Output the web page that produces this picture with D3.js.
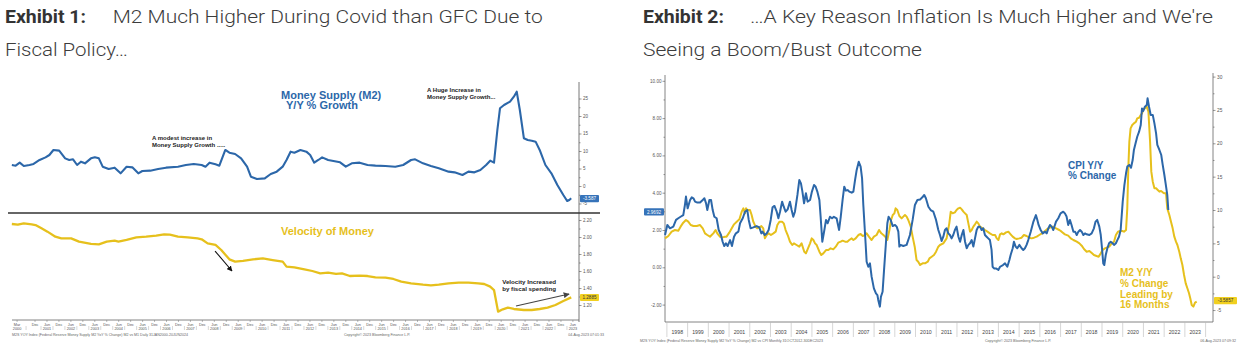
<!DOCTYPE html>
<html><head><meta charset="utf-8">
<script src="https://cdn.jsdelivr.net/npm/d3@7"></script>
<style>body{margin:0;background:#fff}svg{display:block}</style>
</head><body>
<svg id="c" width="1239" height="355"></svg>
<script>
// ---------- Exhibit 1 data ----------
const m2Years = [1999.95,2000.11,2000.28,2000.45,2000.69,2000.86,2001.11,2001.36,2001.52,2001.69,2001.93,2002.18,2002.35,2002.51,2002.68,2002.84,2003.01,2003.26,2003.42,2003.59,2003.75,2004.00,2004.25,2004.50,2004.75,2004.99,2005.24,2005.41,2005.74,2006.07,2006.40,2006.90,2007.23,2007.56,2007.89,2008.05,2008.22,2008.47,2008.63,2008.88,2009.05,2009.29,2009.54,2009.79,2009.95,2010.20,2010.53,2010.78,2011.03,2011.28,2011.44,2011.61,2011.77,2012.02,2012.27,2012.43,2012.60,2012.77,2012.93,2013.18,2013.68,2013.92,2014.17,2014.50,2014.83,2015.16,2015.58,2015.99,2016.32,2016.65,2016.82,2017.15,2017.48,2017.81,2018.22,2018.47,2018.80,2019.05,2019.30,2019.55,2019.79,2019.96,2020.12,2020.26,2020.37,2020.54,2020.79,2020.95,2021.07,2021.20,2021.37,2021.53,2021.70,2021.86,2022.03,2022.27,2022.52,2022.77,2023.02,2023.18,2023.27,2023.35];
const m2Growth = [6.0,5.81,6.67,5.71,6.0,6.29,7.43,8.19,8.86,10.29,10.1,7.9,7.43,7.62,6.0,6.95,6.48,7.9,8.19,7.9,5.52,4.85,5.24,3.62,5.52,5.33,3.62,4.28,4.38,4.85,5.24,5.52,6.0,6.29,6.0,5.52,6.67,6.19,5.81,10.29,9.52,9.14,7.9,5.52,2.67,2.0,2.19,3.43,4.1,5.52,7.43,9.81,9.52,10.29,9.81,8.86,6.67,7.43,8.19,7.43,6.76,5.52,6.48,6.67,6.0,5.81,5.71,5.52,6.0,7.43,7.62,6.48,5.71,5.05,4.1,3.9,3.14,4.1,3.9,4.57,6.0,7.24,6.67,16.0,22.2,23.14,24.1,25.52,26.95,21.71,13.62,13.14,12.95,12.67,10.29,6.0,3.62,0.29,-2.57,-4.29,-4.0,-3.52];
const velYears = [1999.95,2000.20,2000.45,2000.78,2000.94,2001.19,2001.44,2001.77,2002.02,2002.43,2002.76,2003.26,2003.59,2003.92,2004.25,2004.41,2004.75,2005.16,2005.57,2005.99,2006.32,2006.56,2006.90,2007.31,2007.72,2007.89,2008.14,2008.47,2008.71,2009.05,2009.29,2009.62,2010.04,2010.45,2010.86,2011.28,2011.44,2011.77,2012.19,2012.52,2012.85,2013.18,2013.51,2013.76,2014.09,2014.50,2014.83,2015.16,2015.58,2015.91,2016.24,2016.65,2017.15,2017.48,2017.81,2018.22,2018.64,2019.05,2019.46,2019.71,2019.96,2020.12,2020.29,2020.49,2020.70,2020.95,2021.37,2021.70,2022.03,2022.36,2022.69,2023.02,2023.35];
const velocity = [2.153,2.145,2.161,2.149,2.141,2.102,2.063,2.004,1.984,1.984,1.945,1.918,1.914,1.945,1.957,1.945,1.965,1.996,2.004,2.016,2.031,2.027,2.004,1.996,1.984,1.973,1.925,1.906,1.847,1.737,1.710,1.718,1.737,1.749,1.729,1.710,1.651,1.643,1.620,1.600,1.573,1.580,1.565,1.573,1.541,1.545,1.541,1.526,1.522,1.506,1.475,1.455,1.439,1.431,1.439,1.455,1.463,1.463,1.455,1.447,1.416,1.376,1.122,1.149,1.169,1.153,1.141,1.141,1.153,1.169,1.2,1.247,1.290];
const m2LastLabel = "-3.587", m2LastValue = -3.587;
const velLastLabel = "1.2885", velLastValue = 1.2885;
const m2Ticks = [-5,0,5,10,15,20,25];
const velTicks = [1.2,1.4,1.6,1.8,2.0,2.2];
const ex1TickYears = d3.range(2001, 2024);

// ---------- Exhibit 2 data ----------
const cpiYears = [1997.91,1998.02,1998.15,1998.31,1998.44,1998.55,1998.66,1998.79,1998.87,1998.92,1999.00,1999.12,1999.20,1999.28,1999.36,1999.47,1999.60,1999.73,1999.81,1999.89,1999.95,2000.05,2000.13,2000.21,2000.29,2000.40,2000.50,2000.61,2000.69,2000.77,2000.85,2000.93,2001.05,2001.14,2001.24,2001.33,2001.45,2001.53,2001.66,2001.77,2001.88,2001.95,2002.04,2002.17,2002.33,2002.46,2002.56,2002.62,2002.72,2002.82,2002.91,2003.01,2003.10,2003.19,2003.30,2003.38,2003.46,2003.56,2003.64,2003.73,2003.83,2003.94,2004.02,2004.10,2004.18,2004.30,2004.39,2004.47,2004.54,2004.62,2004.71,2004.79,2004.91,2005.00,2005.10,2005.18,2005.26,2005.36,2005.42,2005.50,2005.60,2005.68,2005.76,2005.87,2005.97,2006.06,2006.19,2006.31,2006.39,2006.48,2006.56,2006.64,2006.72,2006.80,2006.92,2007.00,2007.08,2007.16,2007.26,2007.35,2007.42,2007.48,2007.59,2007.64,2007.72,2007.80,2007.88,2007.99,2008.09,2008.16,2008.20,2008.28,2008.33,2008.41,2008.48,2008.57,2008.64,2008.70,2008.80,2008.90,2009.01,2009.09,2009.17,2009.22,2009.28,2009.41,2009.57,2009.73,2009.86,2009.97,2010.09,2010.22,2010.33,2010.42,2010.50,2010.62,2010.73,2010.86,2010.99,2011.10,2011.18,
 2011.26,2011.34,2011.42,2011.50,2011.58,2011.66,2011.74,2011.82,2011.90,2011.98,2012.07,2012.15,2012.23,2012.31,2012.39,2012.47,2012.55,2012.63,2012.71,2012.79,2012.87,2012.95,2013.03,2013.11,2013.19,2013.27,2013.35,2013.43,2013.51,2013.59,2013.67,2013.72,2013.79,2013.88,2014.00,2014.08,2014.22,2014.32,2014.43,2014.53,2014.59,2014.69,2014.75,2014.83,2014.91,2015.01,2015.12,2015.20,2015.28,2015.36,2015.44,2015.56,2015.69,2015.81,2015.88,2015.94,2016.04,2016.14,2016.25,2016.33,2016.41,2016.49,2016.57,2016.65,2016.78,2016.89,2017.00,2017.13,2017.21,2017.29,2017.37,2017.45,2017.53,2017.62,2017.70,2017.78,2017.86,2017.94,2018.02,2018.10,2018.18,2018.26,2018.39,2018.50,2018.61,2018.69,2018.77,2018.87,2018.94,2019.00,2019.06,2019.11,2019.18,2019.26,2019.34,2019.42,2019.51,2019.58,2019.67,2019.74,2019.82,2019.90,2020.00,2020.08,2020.16,2020.22,2020.32,2020.40,2020.48,2020.54,2020.62,2020.70,2020.79,2020.87,2020.93,2020.99,2021.07,2021.16,2021.20,2021.27,2021.35,2021.45,2021.53,2021.61,2021.67,2021.77,2021.86,2021.93,2022.01,2022.07,2022.15,2022.20];
const cpiYoY = [1.73,2.27,2.09,2.18,2.54,2.63,2.71,2.80,3.34,3.79,3.16,3.61,3.75,3.70,3.52,3.47,3.47,3.61,3.70,3.43,3.07,3.61,3.61,3.07,2.71,2.63,2.00,1.73,1.37,1.14,1.29,1.14,1.46,1.14,1.64,1.82,1.91,2.36,2.63,2.98,3.07,2.54,2.09,2.14,2.21,2.14,1.82,1.91,1.73,1.82,2.00,2.54,3.22,3.29,2.98,2.63,2.98,3.52,3.25,2.98,3.11,3.52,3.07,2.71,2.98,3.88,4.68,4.50,4.06,3.43,3.97,3.52,3.61,4.06,4.41,4.32,4.06,3.61,2.71,1.37,2.00,2.54,2.36,2.71,2.63,2.71,2.63,2.00,2.71,3.61,4.32,4.11,4.14,4.06,4.00,4.06,4.68,5.22,5.66,5.40,4.77,3.34,1.29,0.30,0.03,0.21,-0.50,-1.13,-1.40,-1.49,-1.75,-2.11,-1.58,-1.31,-0.15,1.29,2.36,2.71,2.54,2.21,2.27,2.18,1.91,1.11,1.20,1.14,1.20,1.73,2.54,3.34,3.61,3.64,3.75,3.88,3.70,3.25,3.07,2.98,2.54,2.00,1.73,
 1.41,1.64,2.00,2.09,1.82,1.73,1.55,1.73,2.00,2.18,1.64,1.37,1.73,2.00,1.37,1.02,1.20,1.29,1.46,1.11,1.55,2.00,2.18,2.18,2.00,2.09,1.73,1.64,1.55,1.46,0.93,0.03,-0.06,-0.06,-0.14,0.03,0.12,0.21,0.03,0.39,0.66,1.02,1.37,1.11,1.02,1.20,1.02,0.93,1.02,1.20,1.46,1.91,2.45,2.80,2.54,2.27,2.00,1.82,1.91,1.82,2.09,2.27,2.18,2.00,2.45,2.63,2.89,2.98,2.89,2.72,2.27,2.54,2.27,1.91,1.91,1.73,1.91,2.00,1.91,1.73,1.82,1.77,1.73,1.82,2.09,2.45,2.54,2.18,1.73,1.02,0.21,0.12,0.66,1.02,1.29,1.37,1.29,1.20,1.29,1.46,1.64,2.00,3.52,4.41,5.04,5.40,5.49,5.34,5.75,6.29,6.65,7.00,7.27,7.63,8.52,8.38,8.61,8.70,9.06,8.61,8.17,8.17,7.72,7.18,6.56,6.29,6.02,5.49,4.95,4.50,3.88,3.07];
const m2LeadYears = [1997.91,1998.07,1998.23,1998.39,1998.55,1998.66,1998.79,1998.92,1999.03,1999.15,1999.28,1999.44,1999.60,1999.73,1999.84,1999.95,2000.08,2000.16,2000.24,2000.35,2000.43,2000.56,2000.69,2000.80,2000.88,2001.01,2001.13,2001.24,2001.37,2001.50,2001.61,2001.69,2001.77,2001.82,2001.88,2002.01,2002.09,2002.17,2002.28,2002.36,2002.46,2002.56,2002.65,2002.73,2002.82,2002.91,2003.02,2003.14,2003.25,2003.33,2003.43,2003.56,2003.64,2003.73,2003.83,2003.94,2004.05,2004.13,2004.26,2004.39,2004.50,2004.63,2004.71,2004.81,2004.91,2004.99,2005.07,2005.15,2005.23,2005.36,2005.45,2005.55,2005.68,2005.79,2005.90,2006.03,2006.15,2006.27,2006.39,2006.48,2006.60,2006.71,2006.80,2006.92,2007.00,2007.11,2007.24,2007.35,2007.45,2007.54,2007.64,2007.75,2007.88,2007.99,2008.12,2008.24,2008.35,2008.45,2008.54,2008.64,2008.74,2008.82,2008.90,2008.98,2009.04,2009.12,2009.22,2009.33,2009.41,2009.49,2009.57,2009.65,2009.77,2009.86,2009.96,2010.05,2010.13,2010.22,2010.34,2010.46,2010.59,2010.67,2010.78,2010.89,2010.99,2011.10,2011.18,
 2011.34,2011.50,2011.63,2011.70,2011.79,2011.90,2011.98,2012.07,2012.15,2012.23,2012.31,2012.39,2012.47,2012.55,2012.63,2012.71,2012.79,2012.87,2012.95,2013.03,2013.11,2013.24,2013.35,2013.47,2013.59,2013.72,2013.84,2013.92,2014.00,2014.08,2014.16,2014.24,2014.37,2014.48,2014.59,2014.69,2014.80,2014.88,2015.01,2015.12,2015.23,2015.36,2015.49,2015.60,2015.72,2015.85,2015.97,2016.10,2016.25,2016.36,2016.49,2016.62,2016.78,2016.94,2017.05,2017.21,2017.37,2017.49,2017.62,2017.78,2017.91,2018.02,2018.13,2018.26,2018.39,2018.52,2018.61,2018.74,2018.84,2018.94,2019.03,2019.14,2019.22,2019.35,2019.47,2019.58,2019.67,2019.77,2019.87,2019.98,2020.06,2020.16,2020.22,2020.27,2020.32,2020.38,2020.46,2020.54,2020.64,2020.70,2020.79,2020.87,2020.93,2020.99,2021.07,2021.16,2021.24,2021.32,2021.38,2021.45,2021.53,2021.61,2021.69,2021.77,2021.85,2021.93,2022.01,2022.09,2022.15,2022.25,2022.33,2022.41,2022.49,2022.57,2022.64,2022.73,2022.80,2022.88,2022.96,2023.04,2023.12,2023.20,2023.26,2023.33,2023.41,2023.49,2023.57];
const m2Lead = [5.75,6.10,6.75,7.00,6.90,7.50,8.10,8.50,8.25,7.75,7.60,7.60,7.75,7.25,6.50,6.25,6.00,6.25,6.50,7.00,6.50,6.00,5.90,6.00,6.00,6.60,7.25,7.85,8.25,8.60,9.75,10.25,9.50,10.25,10.00,10.00,9.25,8.25,7.50,7.25,7.40,7.60,7.25,5.75,6.25,6.50,6.25,6.50,6.75,7.75,8.25,8.25,8.00,7.00,6.25,5.25,4.75,5.00,4.75,4.50,5.00,3.75,3.50,4.25,5.00,5.75,5.50,5.00,4.75,3.75,3.25,3.50,4.00,4.00,4.25,4.10,4.50,5.10,5.25,5.40,5.25,5.25,5.50,5.75,5.50,5.75,6.25,6.40,6.10,6.25,6.50,6.00,5.50,6.00,6.25,7.00,6.50,6.25,6.00,5.50,7.00,8.50,9.25,9.50,10.25,10.00,9.10,8.75,9.00,9.25,9.00,8.50,7.50,6.00,4.50,2.50,2.25,1.75,2.00,2.00,2.25,2.75,3.00,3.25,3.75,4.50,4.75,
 5.00,5.75,8.00,9.75,9.50,9.65,10.00,10.25,10.35,10.10,9.75,9.50,9.25,8.00,6.75,7.00,7.50,7.85,8.25,8.00,7.50,7.25,7.00,6.75,6.50,6.25,6.25,5.75,5.50,6.35,6.50,6.35,6.65,6.75,6.35,6.00,5.75,5.65,5.75,5.85,6.25,6.10,5.85,5.75,5.85,6.00,6.25,6.50,6.85,7.15,7.35,7.50,7.25,7.00,6.75,6.35,6.15,5.75,5.50,5.25,5.00,4.65,4.15,3.75,3.85,3.50,3.25,3.10,3.00,3.50,4.00,4.25,4.35,4.50,5.00,5.25,6.25,6.75,6.85,6.85,6.75,7.00,10.25,16.25,20.25,22.24,22.74,22.99,23.24,23.74,23.84,24.24,24.49,24.99,25.24,25.49,24.74,20.25,15.75,14.25,13.25,13.25,13.00,12.75,12.85,12.65,12.50,12.50,10.25,9.25,8.25,7.25,6.00,5.25,4.75,3.75,2.75,1.75,0.25,-1.00,-1.74,-2.49,-3.24,-4.24,-4.49,-3.89,-3.74];
const cpiLastLabel = "2.9692", cpiLastValue = 2.9692;
const m2LeadLastLabel = "-3.5857", m2LeadLastValue = -3.5857;
const cpiTicks = [-2,0,2,4,6,8,10];
const m2LeadTicks = [-5,0,5,10,15,20,25,30];
const ex2YearLabels = d3.range(1998, 2024);

// ---------- drawing ----------
const BLUE = "#2c67a9", GOLD = "#e6c01c", TXT = "#3c3c3c";
const svg = d3.select("#c");
svg.append("rect").attr("width",1239).attr("height",355).attr("fill","#fff");
const defs = svg.append("defs");
[["arrBlack","#111"],["arrGray","#444"]].forEach(([id,col])=>{
  defs.append("marker").attr("id",id).attr("viewBox","0 0 10 10").attr("refX",9).attr("refY",5)
    .attr("markerWidth",5).attr("markerHeight",5).attr("orient","auto")
    .append("path").attr("d","M0,0L10,5L0,10z").attr("fill",col);
});

// Titles
const titleFont = "Roboto, 'Liberation Sans', sans-serif";
function ttext(x, y, txt, weight, len, col){
  svg.append("text").attr("x",x).attr("y",y).attr("font-family",titleFont)
    .attr("font-size",19).attr("font-weight",weight).attr("fill",col)
    .attr("textLength",len).attr("lengthAdjust","spacingAndGlyphs").text(txt);
}
ttext(5,23.3,"Exhibit 1:",700,81,"#333");
ttext(112.7,23.3,"M2 Much Higher During Covid than GFC Due to",300,430,TXT);
ttext(5,56,"Fiscal Policy…",300,123,TXT);
ttext(643,23.3,"Exhibit 2:",700,81,"#333");
ttext(750,23.3,"…A Key Reason Inflation Is Much Higher and We're",300,463,TXT);
ttext(643,56,"Seeing a Boom/Bust Outcome",300,279,TXT);

const tickFont = "'Liberation Sans', Arial, sans-serif";
function styleAxis(g, fs){
  g.select(".domain").remove();
  g.selectAll("line").attr("stroke","#555").attr("stroke-width",0.6);
  g.selectAll("text").attr("font-family",tickFont).attr("font-size",fs).attr("fill","#555");
}

// ===== Exhibit 1 =====
const xL = d3.scaleLinear().domain([2000.17, 2023.42]).range([17.1, 572.9]);
const yM2 = d3.scaleLinear().domain([-5, 25]).range([203.5, 98.5]);
const yVel = d3.scaleLinear().domain([1.2, 2.2]).range([305, 220]);
const axL = 579;

svg.append("line").attr("x1",axL).attr("x2",axL).attr("y1",82).attr("y2",322).attr("stroke","#555").attr("stroke-width",0.8);
svg.append("line").attr("x1",8).attr("x2",600).attr("y1",213).attr("y2",213).attr("stroke","#333").attr("stroke-width",1.5);
svg.append("line").attr("x1",12).attr("x2",axL).attr("y1",320).attr("y2",320).attr("stroke","#666").attr("stroke-width",0.8);

let g = svg.append("g").attr("transform",`translate(${axL},0)`)
  .call(d3.axisRight(yM2).tickValues(m2Ticks).tickSize(2.5).tickPadding(1.5).tickFormat(d=>String(d)));
styleAxis(g,4.5);
g = svg.append("g").attr("transform",`translate(${axL},0)`)
  .call(d3.axisRight(yM2).tickValues(m2Ticks.slice(0,-1).map(d=>d+2.5)).tickSize(1.5).tickFormat(""));
styleAxis(g,4.5);
g = svg.append("g").attr("transform",`translate(${axL},0)`)
  .call(d3.axisRight(yVel).tickValues(velTicks).tickSize(2.5).tickPadding(1.5).tickFormat(d=>d.toFixed(2)));
styleAxis(g,4.5);
g = svg.append("g").attr("transform",`translate(${axL},0)`)
  .call(d3.axisRight(yVel).tickValues(velTicks.slice(0,-1).map(d=>d+0.1)).tickSize(1.5).tickFormat(""));
styleAxis(g,4.5);

// x ticks (two rows: month / year)
const ex1Ticks = [{t:2000.17,m:"Mar",y:"2000"},{t:2000.92,m:"Dec",y:""}];
ex1TickYears.forEach(yr=>{ ex1Ticks.push({t:yr+0.42,m:"Jun",y:String(yr)}); if(yr<2023) ex1Ticks.push({t:yr+0.92,m:"Dec",y:""}); });
const xt = svg.append("g");
xt.selectAll("line").data(ex1Ticks).join("line")
  .attr("x1",d=>xL(d.t)).attr("x2",d=>xL(d.t)).attr("y1",320).attr("y2",322).attr("stroke","#777").attr("stroke-width",0.5);
xt.selectAll("line.sep").data(ex1Ticks.slice(1)).join("line").attr("class","sep")
  .attr("x1",(d,i)=>(xL(d.t)+xL(ex1Ticks[i].t))/2).attr("x2",(d,i)=>(xL(d.t)+xL(ex1Ticks[i].t))/2)
  .attr("y1",326).attr("y2",330).attr("stroke","#999").attr("stroke-width",0.4);
xt.selectAll("text.m").data(ex1Ticks).join("text").attr("class","m")
  .attr("x",d=>xL(d.t)).attr("y",325.5).attr("text-anchor","middle")
  .attr("font-family",tickFont).attr("font-size",3.8).attr("fill","#555").text(d=>d.m);
xt.selectAll("text.y").data(ex1Ticks.filter(d=>d.y)).join("text").attr("class","y")
  .attr("x",d=>xL(d.t)).attr("y",330).attr("text-anchor","middle")
  .attr("font-family",tickFont).attr("font-size",3.8).attr("fill","#555").text(d=>d.y);

function foot(x,y,txt,anchor){ svg.append("text").attr("x",x).attr("y",y).attr("text-anchor",anchor||"start")
  .attr("font-family",tickFont).attr("font-size",3.6).attr("fill","#666").text(txt); }
foot(12,335.5,"M2S YOY Index (Federal Reserve Money Supply M2 YoY % Change) M2 vs M1  Daily 31JAN2000-20JUN2024");
foot(344,335.5,"Copyright© 2023 Bloomberg Finance L.P.");
foot(604,335.5,"04-Aug-2023 07:01:33","end");

const m2Data = m2Years.map((t,i)=>({t, v:m2Growth[i]}));
const velData = velYears.map((t,i)=>({t, v:velocity[i]}));
svg.append("path").datum(m2Data).attr("fill","none").attr("stroke",BLUE).attr("stroke-width",2.1)
  .attr("stroke-linejoin","round").attr("d",d3.line().x(d=>xL(d.t)).y(d=>yM2(d.v)));
svg.append("path").datum(velData).attr("fill","none").attr("stroke",GOLD).attr("stroke-width",2.3)
  .attr("stroke-linejoin","round").attr("d",d3.line().x(d=>xL(d.t)).y(d=>yVel(d.v)));

function valLabel(x, y, w, txt, fill, tcol, anchorLeft){
  const gg = svg.append("g");
  gg.append("rect").attr("x",anchorLeft? x : x-w).attr("y",y-3.6).attr("width",w).attr("height",7.2).attr("rx",1).attr("fill",fill);
  gg.append("text").attr("x",anchorLeft? x+w/2 : x-w/2).attr("y",y+1.6).attr("text-anchor","middle")
    .attr("font-family",tickFont).attr("font-size",4.6).attr("fill",tcol).text(txt);
}
valLabel(axL+1, yM2(m2LastValue), 19, m2LastLabel, "#3673b9", "#fff", true);
valLabel(axL+1, yVel(velLastValue), 19, velLastLabel, "#f1d020", "#333", true);

const annFont = "'Liberation Sans', Arial, sans-serif";
function ann(x,y,txt,fs,col){ svg.append("text").attr("x",x).attr("y",y).attr("font-family",annFont)
  .attr("font-weight",700).attr("font-size",fs).attr("fill",col).text(txt); }
ann(xL(2011.21), yM2(24.86), "Money Supply (M2)", 11, BLUE);
ann(xL(2011.42), yM2(22.0), "Y/Y % Growth", 11, BLUE);
ann(xL(2005.81), yM2(13.14), "A modest increase in", 6, "#222");
ann(xL(2005.81), yM2(11.14), "Money Supply Growth .....", 6, "#222");
ann(xL(2017.32), yM2(26.86), "A Huge Increase in", 6, "#222");
ann(xL(2017.32), yM2(24.86), "Money Supply Growth...", 6, "#222");
ann(xL(2011.21), yVel(2.024), "Velocity of Money", 11, GOLD);
ann(xL(2020.46), yVel(1.447), "Velocity Increased", 6.2, "#222");
ann(xL(2020.46), yVel(1.359), "by fiscal spending", 6.2, "#222");
svg.append("line").attr("x1",xL(2008.45)).attr("y1",yVel(1.835)).attr("x2",xL(2009.16)).attr("y2",yVel(1.6))
  .attr("stroke","#111").attr("stroke-width",1.1).attr("marker-end","url(#arrBlack)");
svg.append("line").attr("x1",xL(2021.04)).attr("y1",yVel(1.188)).attr("x2",xL(2023.26)).attr("y2",yVel(1.329))
  .attr("stroke","#444").attr("stroke-width",1.2).attr("marker-end","url(#arrGray)");

// ===== Exhibit 2 =====
const xR = d3.scaleLinear().domain([1998, 2024]).range([666.9, 1205.6]);
const yCPI = d3.scaleLinear().domain([-2, 10]).range([304.6, 80.8]);
const yM2R = d3.scaleLinear().domain([-5, 30]).range([310.05, 76.6]);
const axRL = 665, axRR = 1213, baseR = 322;

svg.append("line").attr("x1",axRL).attr("x2",axRL).attr("y1",75).attr("y2",baseR).attr("stroke","#666").attr("stroke-width",0.8);
svg.append("line").attr("x1",axRR).attr("x2",axRR).attr("y1",73).attr("y2",baseR).attr("stroke","#666").attr("stroke-width",0.8);
svg.append("line").attr("x1",axRL).attr("x2",axRR).attr("y1",baseR).attr("y2",baseR).attr("stroke","#666").attr("stroke-width",0.8);

g = svg.append("g").attr("transform",`translate(${axRL},0)`)
  .call(d3.axisLeft(yCPI).tickValues(cpiTicks).tickSize(2.5).tickPadding(1).tickFormat(d=>d.toFixed(2)));
styleAxis(g,4.6);
g = svg.append("g").attr("transform",`translate(${axRL},0)`)
  .call(d3.axisLeft(yCPI).tickValues(cpiTicks.slice(0,-1).map(d=>d+1)).tickSize(1.5).tickFormat(""));
styleAxis(g,4.6);
g = svg.append("g").attr("transform",`translate(${axRR},0)`)
  .call(d3.axisRight(yM2R).tickValues(m2LeadTicks).tickSize(2.5).tickPadding(1.5).tickFormat(d=>String(d)));
styleAxis(g,4.8);
g = svg.append("g").attr("transform",`translate(${axRR},0)`)
  .call(d3.axisRight(yM2R).tickValues(m2LeadTicks.slice(0,-1).map(d=>d+2.5)).tickSize(1.5).tickFormat(""));
styleAxis(g,4.8);

const yl = svg.append("g");
yl.selectAll("line").data(ex2YearLabels.concat([2024])).join("line")
  .attr("x1",d=>xR(d)).attr("x2",d=>xR(d)).attr("y1",baseR).attr("y2",337).attr("stroke","#bbb").attr("stroke-width",0.6);
yl.selectAll("text").data(ex2YearLabels).join("text")
  .attr("x",d=>xR(d+0.5)).attr("y",333.5).attr("text-anchor","middle")
  .attr("font-family",tickFont).attr("font-size",5.2).attr("fill","#444").text(d=>d);
foot(640,341.5,"M2S YOY Index (Federal Reserve Money Supply M2 YoY % Change) M2 vs CPI  Monthly 31OCT2012-30DEC2023");
foot(985,341.5,"Copyright© 2023 Bloomberg Finance L.P.");
foot(1236,341.5,"06-Aug-2023 07:09:32","end");

const cpiData = cpiYears.map((t,i)=>({t, v:cpiYoY[i]}));
const leadData = m2LeadYears.map((t,i)=>({t, v:m2Lead[i]}));
svg.append("path").datum(leadData).attr("fill","none").attr("stroke",GOLD).attr("stroke-width",2)
  .attr("stroke-linejoin","round").attr("d",d3.line().x(d=>xR(d.t)).y(d=>yM2R(d.v)));
svg.append("path").datum(cpiData).attr("fill","none").attr("stroke",BLUE).attr("stroke-width",2)
  .attr("stroke-linejoin","round").attr("d",d3.line().x(d=>xR(d.t)).y(d=>yCPI(d.v)));

valLabel(axRL-1, yCPI(cpiLastValue), 20, cpiLastLabel, "#3673b9", "#fff", false);
valLabel(axRR+1, yM2R(m2LeadLastValue), 23, m2LeadLastLabel, "#f1d020", "#333", true);

ann(xR(2017.36), yCPI(5.27), "CPI Y/Y", 10, BLUE);
ann(xR(2017.36), yCPI(4.71), "% Change", 10, BLUE);
ann(xR(2019.87), yM2R(0.1), "M2 Y/Y", 10, GOLD);
ann(xR(2019.87), yM2R(-1.54), "% Change", 10, GOLD);
ann(xR(2019.87), yM2R(-3.12), "Leading by", 10, GOLD);
ann(xR(2019.87), yM2R(-4.69), "16 Months", 10, GOLD);
</script></body></html>
